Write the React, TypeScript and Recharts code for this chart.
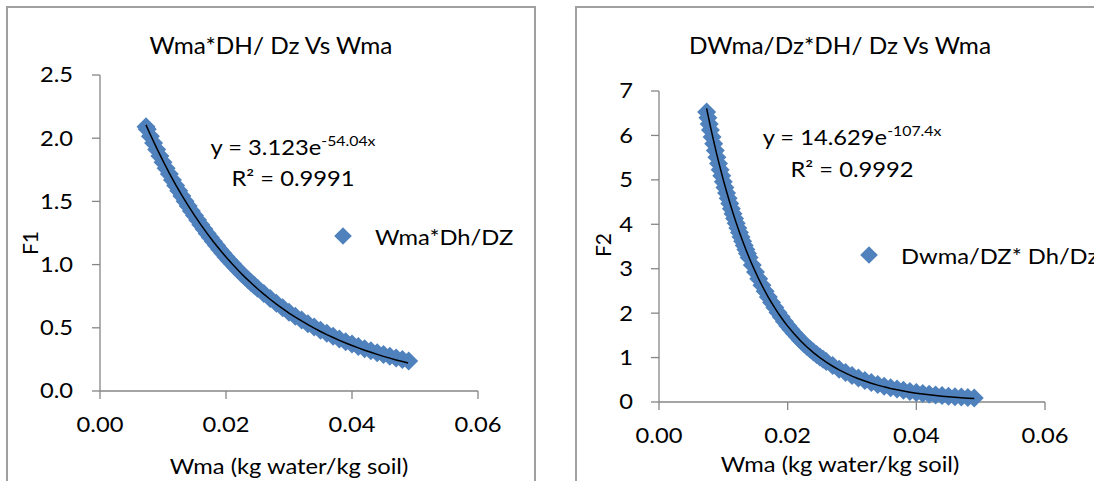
import React from 'react';
import { ScatterChart, Scatter, XAxis, YAxis, Legend } from 'recharts';

const FONT = 'Lato, "Open Sans", sans-serif';
const BLUE = '#4f81bd';
const AXIS = '#868686';
const SX = 1.13; // horizontal stretch of the reference text

// ---------- Left chart (F1) ----------
const wmaF1 = [
  0.0073, 0.0075, 0.008, 0.0085, 0.009, 0.0095, 0.01, 0.0105, 0.011, 0.0115,
  0.012, 0.0125, 0.013, 0.0135, 0.014, 0.0145, 0.015, 0.0155, 0.016, 0.0165,
  0.017, 0.0175, 0.018, 0.0185, 0.019, 0.0195, 0.02, 0.0205, 0.021, 0.0215,
  0.022, 0.0225, 0.023, 0.0235, 0.024, 0.0245, 0.025, 0.026, 0.027, 0.028,
  0.029, 0.03, 0.031, 0.032, 0.033, 0.034, 0.035, 0.036, 0.037, 0.038,
  0.039, 0.04, 0.041, 0.042, 0.043, 0.044, 0.045, 0.046, 0.047, 0.048, 0.049,
];
const f1Values = [
  2.09, 2.07, 2.015, 1.962, 1.91, 1.86, 1.81, 1.762, 1.716, 1.67,
  1.626, 1.584, 1.542, 1.502, 1.463, 1.425, 1.388, 1.352, 1.316, 1.281,
  1.247, 1.214, 1.182, 1.151, 1.12, 1.09, 1.061, 1.033, 1.006, 0.979,
  0.953, 0.928, 0.904, 0.88, 0.857, 0.835, 0.813, 0.771, 0.731, 0.694,
  0.658, 0.624, 0.592, 0.562, 0.533, 0.506, 0.48, 0.456, 0.433, 0.411,
  0.39, 0.371, 0.352, 0.335, 0.318, 0.303, 0.288, 0.274, 0.261, 0.249, 0.2375,
];
const trendF1X = [
  0.0073, 0.008, 0.009, 0.01, 0.011, 0.012, 0.013, 0.014, 0.015, 0.016,
  0.017, 0.018, 0.019, 0.02, 0.021, 0.022, 0.023, 0.024, 0.025, 0.026,
  0.027, 0.028, 0.029, 0.03, 0.031, 0.032, 0.033, 0.034, 0.035, 0.036,
  0.037, 0.038, 0.039, 0.04, 0.041, 0.042, 0.043, 0.044, 0.045, 0.046,
  0.047, 0.048, 0.0489,
];
const trendF1Y = [
  2.105, 2.027, 1.921, 1.82, 1.724, 1.633, 1.547, 1.466, 1.389, 1.316,
  1.247, 1.181, 1.119, 1.06, 1.004, 0.951, 0.901, 0.854, 0.809, 0.766,
  0.726, 0.688, 0.652, 0.617, 0.585, 0.554, 0.525, 0.497, 0.471, 0.446,
  0.423, 0.401, 0.38, 0.36, 0.341, 0.323, 0.306, 0.29, 0.274, 0.26,
  0.246, 0.233, 0.222,
];
const xTicks = [0, 0.02, 0.04, 0.06];
const f1Ticks = [0, 0.5, 1, 1.5, 2, 2.5];

// ---------- Right chart (F2) ----------
const wmaF2 = [
  0.0074, 0.0076, 0.0078, 0.008, 0.00825, 0.0085, 0.00875, 0.009, 0.00925, 0.0095,
  0.00975, 0.01, 0.01025, 0.0105, 0.01075, 0.011, 0.01125, 0.0115, 0.01175, 0.012,
  0.01225, 0.0125, 0.01275, 0.013, 0.01325, 0.0135, 0.01375, 0.014, 0.0145, 0.015,
  0.0155, 0.016, 0.0165, 0.017, 0.0175, 0.018, 0.0185, 0.019, 0.0195, 0.02,
  0.0205, 0.021, 0.0215, 0.022, 0.0225, 0.023, 0.0235, 0.024, 0.0245, 0.025,
  0.0255, 0.026, 0.027, 0.028, 0.029, 0.03, 0.031, 0.032, 0.033, 0.034,
  0.035, 0.036, 0.037, 0.038, 0.039, 0.04, 0.041, 0.042, 0.043, 0.044,
  0.045, 0.046, 0.047, 0.048, 0.049,
];
const f2Values = [
  6.53, 6.4, 6.26, 6.125, 5.965, 5.81, 5.66, 5.51, 5.366, 5.226,
  5.09, 4.958, 4.83, 4.705, 4.584, 4.466, 4.35, 4.237, 4.128, 4.021,
  3.916, 3.814, 3.716, 3.618, 3.524, 3.431, 3.341, 3.254, 3.085, 2.925,
  2.773, 2.629, 2.493, 2.363, 2.241, 2.125, 2.015, 1.911, 1.812, 1.719,
  1.63, 1.546, 1.466, 1.391, 1.319, 1.251, 1.187, 1.126, 1.068, 1.013,
  0.961, 0.911, 0.82, 0.738, 0.664, 0.598, 0.539, 0.486, 0.438, 0.395,
  0.356, 0.321, 0.29, 0.262, 0.237, 0.214, 0.194, 0.176, 0.16, 0.145,
  0.132, 0.12, 0.11, 0.1, 0.092,
];
const trendF2X = [
  0.0074, 0.008, 0.0085, 0.009, 0.0095, 0.01, 0.0105, 0.011, 0.0115, 0.012,
  0.0125, 0.013, 0.0135, 0.014, 0.0145, 0.015, 0.0155, 0.016, 0.0165, 0.017,
  0.0175, 0.018, 0.0185, 0.019, 0.0195, 0.02, 0.021, 0.022, 0.023, 0.024,
  0.025, 0.026, 0.027, 0.028, 0.029, 0.03, 0.031, 0.032, 0.033, 0.034,
  0.035, 0.036, 0.037, 0.038, 0.039, 0.04, 0.041, 0.042, 0.043, 0.044,
  0.045, 0.046, 0.047, 0.048, 0.049,
];
const trendF2Y = [
  6.608, 6.195, 5.871, 5.564, 5.274, 4.998, 4.737, 4.489, 4.254, 4.032,
  3.821, 3.622, 3.432, 3.253, 3.083, 2.922, 2.769, 2.624, 2.487, 2.357,
  2.234, 2.117, 2.006, 1.901, 1.802, 1.708, 1.534, 1.378, 1.237, 1.111,
  0.998, 0.896, 0.805, 0.723, 0.649, 0.583, 0.524, 0.471, 0.423, 0.38,
  0.341, 0.306, 0.275, 0.247, 0.222, 0.199, 0.179, 0.161, 0.144, 0.13,
  0.116, 0.105, 0.094, 0.084, 0.076,
];
const f2Ticks = [0, 1, 2, 3, 4, 5, 6, 7];

const zip = (xs: number[], ys: number[]) => xs.map((x, i) => ({ x, y: ys[i] }));

const Diamond = (props: any) => {
  const { cx, cy } = props;
  if (cx == null || cy == null) return <g />;
  const r = 9.5;
  return (
    <polygon
      points={`${cx},${cy - r} ${cx + r},${cy} ${cx},${cy + r} ${cx - r},${cy}`}
      fill={BLUE}
    />
  );
};
const NoShape = () => <g />;

const makeXTick = (digits: number) => (props: any) => {
  const { x, y, payload } = props;
  return (
    <g transform={`translate(${x},${y})`}>
      <text
        x={0}
        y={0}
        dy="0.71em"
        textAnchor="middle"
        fill="#000"
        fontSize={21}
        fontFamily={FONT}
        transform={`scale(${SX},1)`}
      >
        {Number(payload.value).toFixed(digits)}
      </text>
    </g>
  );
};
const makeYTick = (digits: number) => (props: any) => {
  const { x, y, payload } = props;
  return (
    <g transform={`translate(${x},${y})`}>
      <text
        x={0}
        y={0}
        dy="0.355em"
        textAnchor="end"
        fill="#000"
        fontSize={21}
        fontFamily={FONT}
        transform={`scale(${SX},1)`}
      >
        {Number(payload.value).toFixed(digits)}
      </text>
    </g>
  );
};

const LegendContent = (props: any) => {
  const items = (props.payload || []).filter((p: any) => p.type !== 'none');
  return (
    <div style={{ fontFamily: FONT, fontSize: 21, color: '#000', whiteSpace: 'nowrap' }}>
      {items.map((it: any) => (
        <div key={it.value} style={{ display: 'flex', alignItems: 'center', height: 24 }}>
          <svg width={18} height={18} style={{ display: 'block' }}>
            <polygon points="9,0.2 17.8,9 9,17.8 0.2,9" fill={BLUE} />
          </svg>
          <span
            style={{
              marginLeft: 23,
              display: 'inline-block',
              transform: `scaleX(${SX})`,
              transformOrigin: 'left center',
            }}
          >
            {it.value}
          </span>
        </div>
      ))}
    </div>
  );
};

type TxtProps = {
  x: number;
  y: number;
  size: number;
  children: React.ReactNode;
  rotate?: boolean;
  sx?: number;
};
const Txt = ({ x, y, size, children, rotate, sx }: TxtProps) => (
  <div
    style={{
      position: 'absolute',
      left: x,
      top: y,
      transform: `translate(-50%, -50%)${rotate ? ' rotate(-90deg)' : ''} scaleX(${sx ?? SX})`,
      fontSize: size,
      lineHeight: 1,
      whiteSpace: 'nowrap',
      color: '#000',
      textAlign: 'center',
    }}
  >
    {children}
  </div>
);

const Sup = ({ children }: { children: React.ReactNode }) => (
  <span style={{ fontSize: 14, position: 'relative', top: -9 }}>{children}</span>
);

type PanelProps = {
  left: number;
  width: number;
  margin: { top: number; right: number; bottom: number; left: number };
  data: { x: number; y: number }[];
  trend: { x: number; y: number }[];
  name: string;
  yDomain: [number, number];
  yTicks: number[];
  yDigits: number;
  yTickMargin: number;
  legendPos: { left: number; top: number };
};

const Panel = (p: PanelProps) => (
  <div style={{ position: 'absolute', left: p.left, top: 0 }}>
    <ScatterChart width={p.width} height={481} margin={p.margin}>
      <XAxis
        type="number"
        dataKey="x"
        domain={[0, 0.06]}
        ticks={xTicks}
        height={40}
        tickSize={8}
        tickMargin={18}
        axisLine={{ stroke: AXIS, strokeWidth: 1.3 }}
        tickLine={{ stroke: AXIS, strokeWidth: 1.3 }}
        tick={makeXTick(2)}
        interval={0}
      />
      <YAxis
        type="number"
        dataKey="y"
        domain={p.yDomain}
        ticks={p.yTicks}
        width={60}
        tickSize={8}
        tickMargin={p.yTickMargin}
        axisLine={{ stroke: AXIS, strokeWidth: 1.3 }}
        tickLine={{ stroke: AXIS, strokeWidth: 1.3 }}
        tick={makeYTick(p.yDigits)}
        interval={0}
      />
      <Legend
        layout="vertical"
        align="center"
        verticalAlign="middle"
        content={(lp: any) => <LegendContent payload={lp.payload} />}
        wrapperStyle={{ left: p.legendPos.left, top: p.legendPos.top, width: 'auto', right: 'auto', bottom: 'auto' }}
      />
      <Scatter
        name={p.name}
        data={p.data}
        fill={BLUE}
        shape={Diamond}
        legendType="diamond"
        isAnimationActive={false}
      />
      <Scatter
        name="trend"
        data={p.trend}
        shape={NoShape}
        line={{ stroke: '#000', strokeWidth: 1.5 }}
        lineType="joint"
        legendType="none"
        isAnimationActive={false}
      />
    </ScatterChart>
  </div>
);

export default function App() {
  return (
    <div
      style={{
        position: 'absolute',
        left: 0,
        top: 0,
        width: 1094,
        height: 481,
        overflow: 'hidden',
        background: '#fff',
        fontFamily: FONT,
      }}
    >
      <div style={{ position: 'absolute', left: 6, top: 6, width: 530, height: 500, border: '2px solid #a0a0a0', boxSizing: 'border-box' }} />
      <div style={{ position: 'absolute', left: 575, top: 6, width: 560, height: 500, border: '2px solid #a0a0a0', boxSizing: 'border-box' }} />

      <Panel
        left={0}
        width={545}
        margin={{ top: 75, right: 67, bottom: 50, left: 40 }}
        data={zip(wmaF1, f1Values)}
        trend={zip(trendF1X, trendF1Y)}
        name="Wma*Dh/DZ"
        yDomain={[0, 2.5]}
        yTicks={f1Ticks}
        yDigits={1}
        yTickMargin={19}
        legendPos={{ left: 334, top: 224 }}
      />
      <Panel
        left={560}
        width={534}
        margin={{ top: 91, right: 49, bottom: 39, left: 39 }}
        data={zip(wmaF2, f2Values)}
        trend={zip(trendF2X, trendF2Y)}
        name="Dwma/DZ* Dh/Dz"
        yDomain={[0, 7]}
        yTicks={f2Ticks}
        yDigits={0}
        yTickMargin={18}
        legendPos={{ left: 300, top: 243 }}
      />

      {/* Left chart texts */}
      <Txt x={271} y={45} size={23} sx={1.06}>Wma*DH/ Dz Vs Wma</Txt>
      <Txt x={293} y={146} size={21}>y = 3.123e<Sup>-54.04x</Sup></Txt>
      <Txt x={293} y={177} size={21}>R² = 0.9991</Txt>
      <Txt x={289} y={465} size={21}>Wma (kg water/kg soil)</Txt>
      <Txt x={29} y={243} size={21} rotate sx={1}>F1</Txt>

      {/* Right chart texts */}
      <Txt x={840} y={45} size={23} sx={1.06}>DWma/Dz*DH/ Dz Vs Wma</Txt>
      <Txt x={852} y={136} size={21}>y = 14.629e<Sup>-107.4x</Sup></Txt>
      <Txt x={852} y={168} size={21}>R² = 0.9992</Txt>
      <Txt x={840} y={463} size={21}>Wma (kg water/kg soil)</Txt>
      <Txt x={602} y={245} size={21} rotate sx={1}>F2</Txt>
    </div>
  );
}
